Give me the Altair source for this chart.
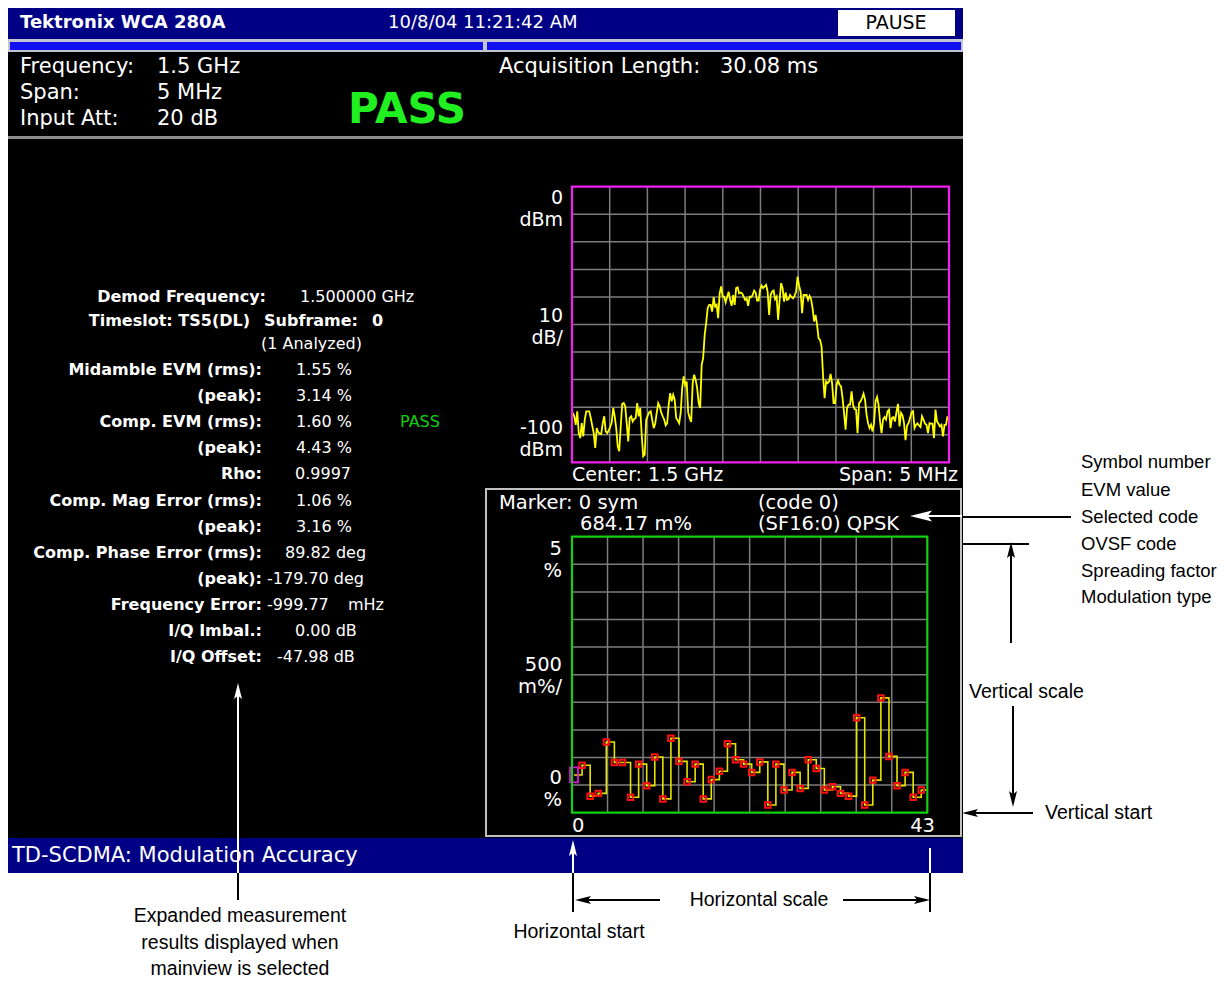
import altair as alt
import numpy as np
import pandas as pd

# ---------------- data ----------------
# spectrum trace (dBm), evenly spaced sweep bins across the 5 MHz span
trace_dbm = [
    -82.1, -83.3, -86.4, -81.5, -89.4, -91.2, -85.8, -90.6, -84.5, -81.5,
    -81.5, -81.5, -83.9, -86.7, -89.4, -94.8, -87.6, -89.1, -89.6, -89.7,
    -85.8, -83.3, -88.8, -89.4, -88.4, -87.2, -85.5, -80.3, -83.3, -87.6,
    -94.2, -96.0, -87.0, -78.8, -78.5, -79.7, -85.8, -92.4, -83.9, -83.3,
    -85.2, -84.3, -83.9, -78.5, -83.3, -80.3, -90.0, -97.8, -97.2, -84.5,
    -83.1, -81.9, -81.5, -84.5, -87.6, -86.0, -82.1, -78.5, -79.7, -81.9,
    -83.3, -84.5, -86.6, -85.8, -79.1, -74.9, -77.9, -75.5, -77.3, -83.9,
    -84.8, -85.8, -82.1, -73.1, -68.8, -71.9, -70.7, -81.9, -83.9, -85.4,
    -71.3, -68.2,
    -70.1, -73.1, -78.5, -80.3, -64.6, -62.2, -53.8, -49.5, -44.1, -42.9,
    -42.9, -45.3, -40.1, -43.5, -42.9, -47.7, -38.7, -36.2, -39.9, -39.9,
    -42.0, -39.9, -38.1, -41.1, -43.2, -39.3, -42.9, -36.8, -36.5, -38.7,
    -38.4, -38.7, -39.9, -41.1, -40.5, -43.2, -39.9, -40.1, -39.3, -37.7,
    -38.4, -41.3, -41.3, -37.4, -35.9, -36.8, -36.2, -35.6, -38.1, -46.5,
    -39.3, -38.1, -37.7, -40.8, -39.9, -48.3, -41.1, -35.0, -36.8, -41.7,
    -38.4, -41.1, -40.8, -39.3, -40.1, -40.5, -39.5, -38.1, -32.6, -35.9,
    -38.1, -45.9, -39.3, -39.3, -39.3, -41.1, -39.6, -40.8, -44.1, -48.9,
    -46.5, -50.1, -55.0,
    -55.6, -58.0, -68.8, -76.7, -70.7, -71.3, -70.7, -67.9, -71.3, -78.5,
    -78.5, -71.9, -70.3, -71.9, -72.5, -76.7, -82.1, -88.2, -80.3, -79.1,
    -79.1, -74.3, -79.1, -80.7, -80.9, -89.4, -78.5, -77.9, -76.7, -75.1,
    -77.3, -82.7, -85.8, -87.6, -86.4, -88.8, -85.8, -77.9, -76.3, -79.1,
    -85.2, -89.4, -84.5, -83.6, -84.5, -81.5, -80.9, -87.6, -83.9, -83.6,
    -85.2, -81.5, -78.8, -87.0, -82.1, -83.0, -85.8, -92.0, -86.7, -85.8,
    -83.9, -81.9, -81.4, -87.6, -86.4, -85.9, -86.6, -87.2, -83.3, -84.5,
    -86.0, -86.4, -89.4, -85.8, -86.0, -86.0, -91.2, -80.9, -85.2, -86.0,
    -87.0, -86.4, -90.6, -86.4, -86.4, -83.3,
]
span_mhz = 5.0
trace_freq = np.linspace(-2.49, 2.48, len(trace_dbm))

# EVM per symbol (%)
evm_pct = [0.684, 0.86, 0.30, 0.35, 1.28, 0.91, 0.91, 0.28, 0.88, 0.49,
           1.01, 0.25, 1.35, 0.93, 0.56, 0.88, 0.25, 0.60, 0.75, 1.25,
           0.96, 0.88, 0.73, 0.92, 0.14, 0.88, 0.41, 0.73, 0.44, 0.96,
           0.80, 0.41, 0.47, 0.35, 0.30, 1.72, 0.14, 0.59, 2.08, 1.02,
           0.49, 0.73, 0.28, 0.41]
symbols = list(range(len(evm_pct)))

meas_labels = ["Demod Frequency:", "Midamble EVM (rms):", "(peak):", "Comp. EVM (rms):",
               "(peak):", "Rho:", "Comp. Mag Error (rms):", "(peak):",
               "Comp. Phase Error (rms):", "(peak):", "Frequency Error:",
               "I/Q Imbal.:", "I/Q Offset:"]
meas_values = ["1.500000 GHz", "1.55 %", "3.14 %", "1.60 %", "4.43 %", "0.9997",
               "1.06 %", "3.16 %", "89.82 deg", "-179.70 deg", "-999.77",
               "0.00 dB", "-47.98 dB"]

# ---------------- layout helpers (screen pixel coords) ----------------
FONT = "DejaVu Sans"
AFONT = "Liberation Sans, Arial, sans-serif"
SXs = alt.Scale(domain=[0, 1227], range=[-8, 1219], nice=False, zero=False)
SYs = alt.Scale(domain=[0, 983], range=[-8, 975], nice=False, zero=False)


def P(v):
    return v - 8


def X(f, s):
    return alt.X(f, type="quantitative", scale=s, axis=None)


def Y(f, s):
    return alt.Y(f, type="quantitative", scale=s, axis=None)


def text_layer(rows, **kw):
    df = pd.DataFrame(rows, columns=["x", "y", "t"])
    return alt.Chart(df).mark_text(**kw).encode(
        x=X("x", SXs), y=Y("y", SYs), text="t:N")


def rule_layer(rows, color, width):
    df = pd.DataFrame(rows, columns=["x", "y", "x2", "y2"])
    return alt.Chart(df).mark_rule(color=color, strokeWidth=width).encode(
        x=X("x", SXs), y=Y("y", SYs), x2="x2", y2="y2")


layers = []

# backgrounds
bg = pd.DataFrame([
    (8, 963, 8, 873, "#000000"),
    (8, 963, 8, 39, "#000084"),
    (8, 963, 39, 52, "#C4C4D4"),
    (10, 483, 42, 50, "#1010F0"),
    (487, 961, 42, 50, "#1010F0"),
    (838, 955, 10, 36, "#FFFFFF"),
    (8, 963, 136, 139, "#8C8C8C"),
    (8, 963, 838, 873, "#000084"),
], columns=["x", "x2", "y", "y2", "c"])
layers.append(alt.Chart(bg).mark_rect().encode(
    x=X("x", SXs), x2="x2", y=Y("y", SYs), y2="y2",
    color=alt.Color("c:N", scale=None)))

# EVM panel frame
frame = pd.DataFrame([(486, 961, 489, 836)], columns=["x", "x2", "y", "y2"])
layers.append(alt.Chart(frame).mark_rect(fillOpacity=0, stroke="#C0C0C0", strokeWidth=2).encode(
    x=X("x", SXs), x2="x2", y=Y("y", SYs), y2="y2"))

# ---------------- spectrum panel ----------------
SP_L, SP_R, SP_T, SP_B = 572, 949, 186.7, 462.3
GX1 = alt.Scale(domain=[0, 10], range=[P(SP_L), P(SP_R)], nice=False, zero=False)
GY1 = alt.Scale(domain=[0, 10], range=[P(SP_B), P(SP_T)], nice=False, zero=False)
grid_rows = [(k, 0, k, 10) for k in range(1, 10)] + [(0, k, 10, k) for k in range(1, 10)]
grid = pd.DataFrame(grid_rows, columns=["x", "y", "x2", "y2"])
layers.append(alt.Chart(grid).mark_rule(color="#7C7C7C", strokeWidth=1.5).encode(
    x=X("x", GX1), y=Y("y", GY1), x2="x2", y2="y2"))

spec = pd.DataFrame({"f": trace_freq, "p": trace_dbm})
SPX = alt.Scale(domain=[-span_mhz / 2, span_mhz / 2], range=[P(SP_L), P(SP_R)], nice=False, zero=False)
SPY = alt.Scale(domain=[-100, 0], range=[P(SP_B), P(SP_T)], nice=False, zero=False)
layers.append(alt.Chart(spec).mark_line(color="#FFFF00", strokeWidth=1.8).encode(
    x=X("f", SPX), y=Y("p", SPY)))

box = pd.DataFrame([(0, 10, 0, 10)], columns=["x", "x2", "y", "y2"])
layers.append(alt.Chart(box).mark_rect(fillOpacity=0, stroke="#F020F0", strokeWidth=2.2).encode(
    x=X("x", GX1), x2="x2", y=Y("y", GY1), y2="y2"))

# ---------------- EVM panel ----------------
EV_L, EV_R, EV_T, EV_B = 572, 927.3, 536.7, 812.7
GX2 = alt.Scale(domain=[0, 10], range=[P(EV_L), P(EV_R)], nice=False, zero=False)
GY2 = alt.Scale(domain=[0, 10], range=[P(EV_B), P(EV_T)], nice=False, zero=False)
layers.append(alt.Chart(grid).mark_rule(color="#7C7C7C", strokeWidth=1.5).encode(
    x=X("x", GX2), y=Y("y", GY2), x2="x2", y2="y2"))

EVX = alt.Scale(domain=[-0.25, 43.75], range=[P(EV_L), P(EV_R)], nice=False, zero=False)
EVY = alt.Scale(domain=[0, 5], range=[P(EV_B), P(EV_T)], nice=False, zero=False)
evm = pd.DataFrame({"s": symbols, "v": evm_pct})
evm_step = pd.concat([evm, pd.DataFrame({"s": [symbols[-1] + 0.75], "v": [evm_pct[-1]]})])
layers.append(alt.Chart(evm_step).mark_line(color="#E4E400", strokeWidth=1.6,
                                             interpolate="step-after").encode(
    x=X("s", EVX), y=Y("v", EVY)))
layers.append(alt.Chart(evm.iloc[1:]).mark_point(shape="square", size=30, filled=False,
                                                  color="#FF1010", strokeWidth=2, opacity=1).encode(
    x=X("s", EVX), y=Y("v", EVY)))
layers.append(alt.Chart(evm.iloc[:1]).mark_point(shape="M-0.53,-1H0.53V1H-0.53Z", size=225,
                                                  filled=False, color="#E010E0", strokeWidth=1.8,
                                                  opacity=1).encode(
    x=X("s", EVX), y=Y("v", EVY)))
layers.append(alt.Chart(box).mark_rect(fillOpacity=0, stroke="#10D010", strokeWidth=2.2).encode(
    x=X("x", GX2), x2="x2", y=Y("y", GY2), y2="y2"))

# ---------------- screen texts ----------------
layers.append(text_layer([(20, 23, "Tektronix WCA 280A")], font=FONT, fontSize=18,
                         fontWeight="bold", color="white", align="left"))
layers.append(text_layer([(388, 23, "10/8/04 11:21:42 AM")], font=FONT, fontSize=18,
                         color="white", align="left"))
layers.append(text_layer([(896, 23, "PAUSE")], font=FONT, fontSize=19, color="black",
                         align="center"))
layers.append(text_layer([
    (20, 67, "Frequency:"), (157, 67, "1.5 GHz"),
    (20, 93, "Span:"), (157, 93, "5 MHz"),
    (20, 119, "Input Att:"), (157, 119, "20 dB"),
    (499, 67, "Acquisition Length:"), (720, 67, "30.08 ms"),
], font=FONT, fontSize=21, color="white", align="left"))
layers.append(text_layer([(407, 110, "PASS")], font=FONT, fontSize=42, fontWeight="bold",
                         color="#20F020", align="center"))
layers.append(text_layer([(12, 856, "TD-SCDMA: Modulation Accuracy")], font=FONT, fontSize=21,
                         color="white", align="left"))

label_y = [297, 370, 396, 422, 448, 474, 501, 527, 553, 579, 605, 631, 657]
label_x = [266, 262, 262, 262, 262, 262, 262, 262, 262, 262, 262, 262, 262]
value_x = [300, 296, 296, 296, 296, 295, 296, 296, 285, 267, 267, 295, 277]
layers.append(text_layer(
    [(x, y, t) for x, y, t in zip(label_x, label_y, meas_labels)]
    + [(250, 321, "Timeslot: TS5(DL)"), (358, 321, "Subframe:")],
    font=FONT, fontSize=16, fontWeight="bold", color="white", align="right"))
layers.append(text_layer([(372, 321, "0")], font=FONT, fontSize=16, fontWeight="bold",
                         color="white", align="left"))
layers.append(text_layer(
    [(x, y, t) for x, y, t in zip(value_x, label_y, meas_values)]
    + [(348, 605, "mHz"), (261, 344, "(1 Analyzed)")],
    font=FONT, fontSize=16, color="white", align="left"))
layers.append(text_layer([(400, 422, "PASS")], font=FONT, fontSize=16, color="#10D010",
                         align="left"))

# spectrum labels
layers.append(text_layer([
    (563, 198, "0"), (563, 220, "dBm"), (563, 316, "10"), (563, 338, "dB/"),
    (563, 428, "-100"), (563, 450, "dBm"), (958, 475, "Span: 5 MHz"),
], font=FONT, fontSize=19, color="white", align="right"))
layers.append(text_layer([(572, 475, "Center: 1.5 GHz")], font=FONT, fontSize=19,
                         color="white", align="left"))

# EVM labels
layers.append(text_layer([
    (499, 503, "Marker: 0 sym"), (580, 524, "684.17 m%"),
    (758, 503, "(code 0)"), (758, 524, "(SF16:0) QPSK"), (572, 826, "0"),
], font=FONT, fontSize=19.5, color="white", align="left"))
layers.append(text_layer([
    (562, 549, "5"), (562, 571, "%"), (562, 665, "500"), (562, 687, "m%/"),
    (562, 778, "0"), (562, 800, "%"), (935, 826, "43"),
], font=FONT, fontSize=19.5, color="white", align="right"))

# ---------------- annotations ----------------
layers.append(text_layer([
    (1081, 462, "Symbol number"), (1081, 490, "EVM value"), (1081, 517, "Selected code"),
    (1081, 544, "OVSF code"), (1081, 571, "Spreading factor"), (1081, 597, "Modulation type"),
], font=AFONT, fontSize=18.5, color="black", align="left"))
layers.append(text_layer([
    (969, 692, "Vertical scale"), (1045, 813, "Vertical start"),
], font=AFONT, fontSize=19.5, color="black", align="left"))
layers.append(text_layer([
    (759, 900, "Horizontal scale"), (579, 932, "Horizontal start"),
    (240, 916, "Expanded measurement"), (240, 943, "results displayed when"),
    (240, 969, "mainview is selected"),
], font=AFONT, fontSize=19.5, color="black", align="center"))

layers.append(rule_layer([
    (962, 517, 1071, 517), (963, 544, 1029, 544),
    (1011, 550, 1011, 643), (1013, 706, 1013, 800), (970, 813, 1033, 813),
    (238, 873, 238, 900), (573, 873, 573, 912), (930, 873, 930, 912),
    (582, 900, 660, 900), (843, 900, 922, 900),
], "black", 2))
layers.append(rule_layer([
    (928, 516, 962, 516), (238, 695, 238, 873), (573, 852, 573, 873), (930, 848, 930, 873),
], "white", 2))

ARROW = "M0,-1L0.5,1L0,0.6L-0.5,1Z"
heads = pd.DataFrame([
    (921, 516, 270, "white", 484),
    (1011, 550, 0, "black", 256),
    (1013, 799, 180, "black", 256),
    (970, 813, 270, "black", 256),
    (238, 691, 0, "white", 256),
    (573, 848, 0, "white", 256),
    (583, 900, 270, "black", 256),
    (922, 900, 90, "black", 256),
], columns=["x", "y", "a", "c", "s"])
layers.append(alt.Chart(heads).mark_point(shape=ARROW, filled=True, opacity=1, strokeWidth=0).encode(
    x=X("x", SXs), y=Y("y", SYs),
    angle=alt.Angle("a:Q", scale=None),
    color=alt.Color("c:N", scale=None),
    size=alt.Size("s:Q", scale=None)))

chart = alt.layer(*layers).resolve_scale(x="independent", y="independent").properties(
    width=1211, height=975, padding=0, autosize=alt.AutoSizeParams(type="none"),
    background="white",
).configure_view(strokeWidth=0)

chart.save("out.html", embed_options={"renderer": "svg", "actions": False})
